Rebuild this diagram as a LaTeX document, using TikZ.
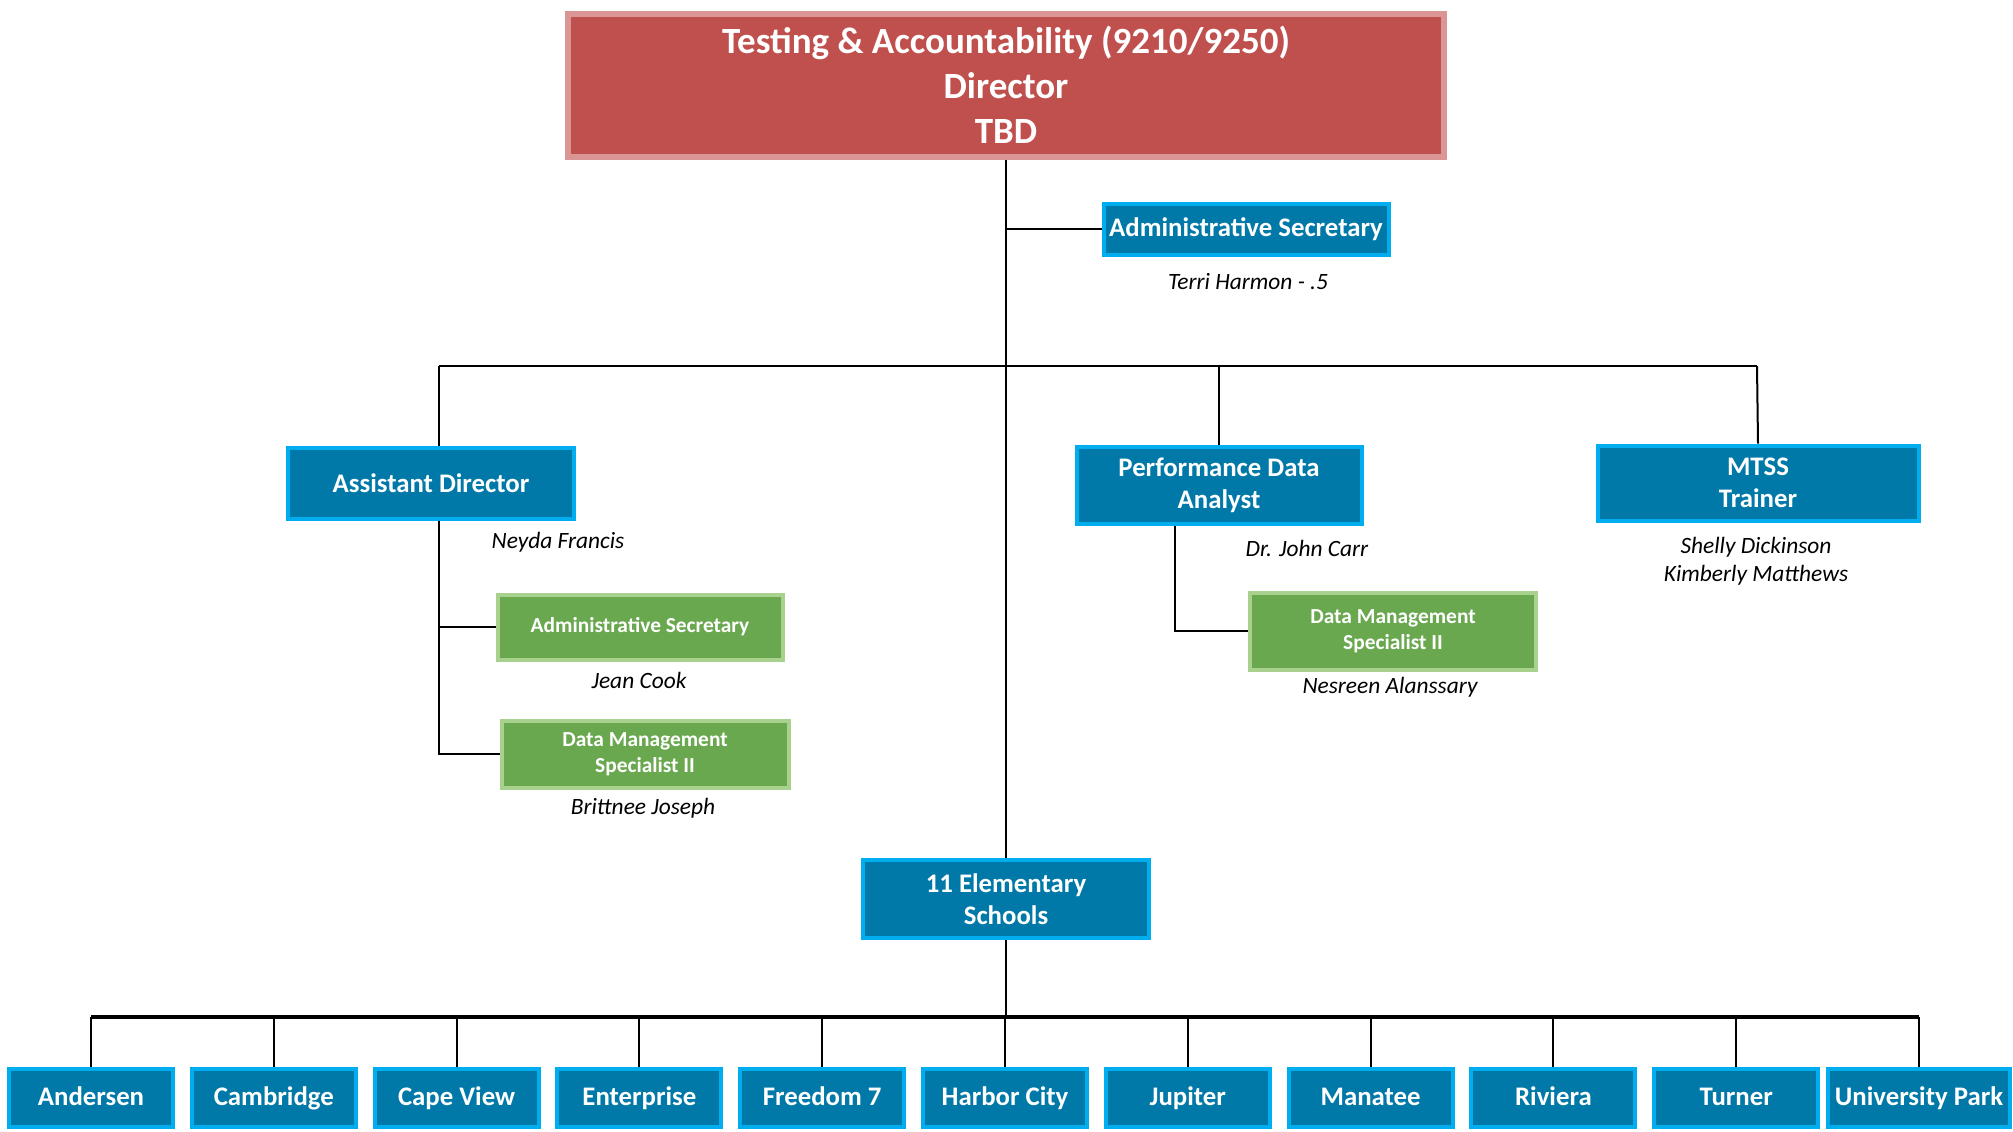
\documentclass[tikz,border=0pt]{standalone}
\usepackage{fontspec}
\setmainfont{Carlito}
\usepackage{tikz}
\usetikzlibrary{shapes.geometric, arrows}
\definecolor{topfill}{HTML}{C0504D}
\definecolor{topedge}{HTML}{D99694}
\definecolor{bluefill}{HTML}{0079A8}
\definecolor{blueedge}{HTML}{00AEEF}
\definecolor{greenfill}{HTML}{6AA84F}
\definecolor{greenedge}{HTML}{A9D18E}
\tikzstyle{topbox} = [rectangle, draw=topedge, fill=topfill, line width=3pt, text=white, align=center, inner sep=0pt, font=\bfseries\fontsize{18.5}{22.5}\selectfont]
\tikzstyle{bluebox} = [rectangle, draw=blueedge, fill=bluefill, line width=2pt, text=white, align=center, inner sep=0pt, font=\bfseries\fontsize{13.4}{16}\selectfont]
\tikzstyle{greenbox} = [rectangle, draw=greenedge, fill=greenfill, line width=2pt, text=white, align=center, inner sep=0pt, font=\bfseries\fontsize{10.7}{12.9}\selectfont]
\tikzstyle{school} = [bluebox, minimum width=82pt, minimum height=29pt, text height=9.5pt, text depth=2.5pt]
\tikzstyle{person} = [align=center, inner sep=0pt, font=\itshape\fontsize{11.7}{14}\selectfont]
\tikzstyle{conn} = [line width=1pt, black]
\tikzstyle{bus} = [line width=1.8pt, black]

\begin{document}
\begin{tikzpicture} [node distance=91.4pt, x=0.5pt, y=-0.5pt]
\useasboundingbox (0,0) rectangle (2013,1131);

\node (top) [topbox, minimum width=438pt, minimum height=71.5pt] at (1006,85) {Testing \& Accountability (9210/9250)\\Director\\TBD};
\node (adm) [bluebox, minimum width=142.5pt, minimum height=25.5pt] at (1246,229) {Administrative Secretary};
\node (nmTerri) [person] at (1248,282) {Terri Harmon - .5};

\node (asst) [bluebox, minimum width=143pt, minimum height=35.5pt] at (431,483) {Assistant Director};
\node (nmNeyda) [person] at (558,542) {Neyda Francis};
\node (sec2) [greenbox, minimum width=142.5pt, minimum height=32.5pt] at (640,627) {Administrative Secretary};
\node (nmJean) [person] at (639,680) {Jean Cook};
\node (dms1) [greenbox, minimum width=143.5pt, minimum height=33.5pt] at (645,754) {Data Management\\Specialist II};
\node (nmBrit) [person] at (643,808) {Brittnee Joseph};

\node (pda) [bluebox, minimum width=142.5pt, minimum height=38.5pt] at (1219,485) {Performance Data\\Analyst};
\node (nmCarr) [person] at (1307,548) {Dr. John Carr};
\node (dms2) [greenbox, minimum width=143pt, minimum height=38.5pt] at (1393,631) {Data Management\\Specialist II};
\node (nmNes) [person] at (1390,687) {Nesreen Alanssary};

\node (mtss) [bluebox, minimum width=160.5pt, minimum height=37.5pt] at (1758,483) {MTSS\\Trainer};
\node (nmMtss) [person] at (1756,561) {Shelly Dickinson\\Kimberly Matthews};

\node (elem) [bluebox, minimum width=143pt, minimum height=39pt] at (1006,899) {11 Elementary\\Schools};

% schools
\node (sch1) [school] at (91,1098) {Andersen};
\node (sch2) [school, right of=sch1] {Cambridge};
\node (sch3) [school, right of=sch2] {Cape View};
\node (sch4) [school, right of=sch3] {Enterprise};
\node (sch5) [school, right of=sch4] {Freedom 7};
\node (sch6) [school, right of=sch5] {Harbor City};
\node (sch7) [school, right of=sch6] {Jupiter};
\node (sch8) [school, right of=sch7] {Manatee};
\node (sch9) [school, right of=sch8] {Riviera};
\node (sch10) [school, right of=sch9] {Turner};
\node (sch11) [school, right of=sch10, minimum width=91pt] {University Park};

\coordinate (busL) at (439,366);
\coordinate (busR) at (1757,366);
\coordinate (sbus) at (1006,1017);

\draw [conn] (top.south) -- (elem.north);
\draw [conn] (top.south |- adm.west) -- (adm.west);
\draw [conn] (busL) -- (busR);
\draw [conn] (busL) -- ([xshift=4pt]asst.north);
\draw [conn] (pda.north |- busL) -- (pda.north);
\draw [conn] (busR) -- (mtss.north);
\draw [conn] ([xshift=4pt]asst.south) |- (sec2.west);
\draw [conn] ([xshift=4pt]asst.south) |- (dms1.west);
\draw [conn] ([xshift=-22pt]pda.south) |- (dms2.west);

\draw [conn] (elem.south) -- (sbus);
\draw [bus] (sch1.north |- sbus) -- (sch11.north |- sbus);
\draw [conn] (sch1.north |- sbus) -- (sch1.north);
\draw [conn] (sch2.north |- sbus) -- (sch2.north);
\draw [conn] (sch3.north |- sbus) -- (sch3.north);
\draw [conn] (sch4.north |- sbus) -- (sch4.north);
\draw [conn] (sch5.north |- sbus) -- (sch5.north);
\draw [conn] (sch6.north |- sbus) -- (sch6.north);
\draw [conn] (sch7.north |- sbus) -- (sch7.north);
\draw [conn] (sch8.north |- sbus) -- (sch8.north);
\draw [conn] (sch9.north |- sbus) -- (sch9.north);
\draw [conn] (sch10.north |- sbus) -- (sch10.north);
\draw [conn] (sch11.north |- sbus) -- (sch11.north);
\end{tikzpicture}
\end{document}
